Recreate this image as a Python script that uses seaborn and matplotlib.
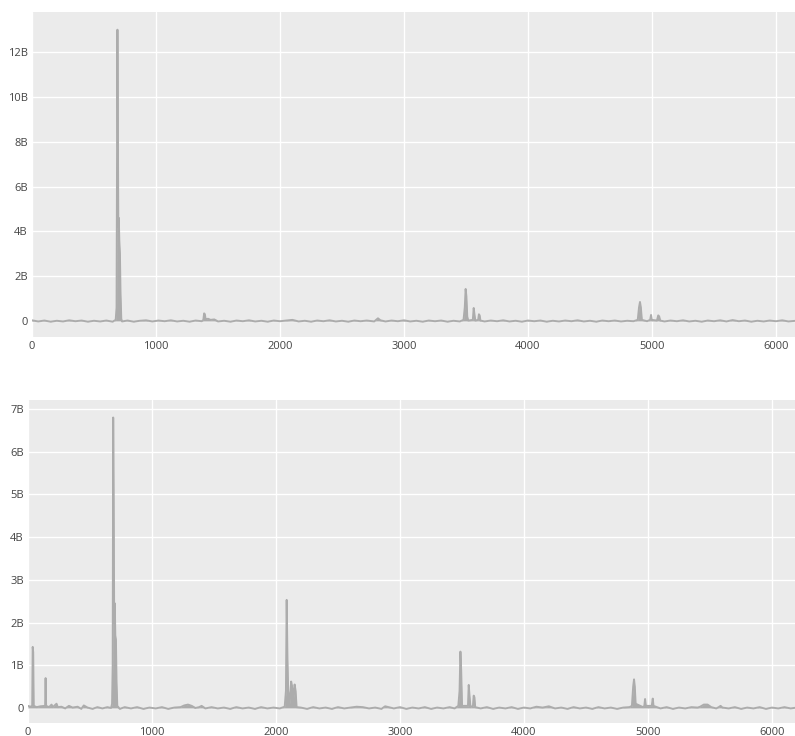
import matplotlib
matplotlib.use('Agg')
import matplotlib.pyplot as plt
import pandas as pd
import seaborn as sns
from matplotlib.ticker import FuncFormatter

# dados (valores em bilhoes)
top_x = [0, 50, 100, 150, 200, 250, 300, 350, 400, 450, 500, 550, 600, 650,
         675, 682, 686, 689, 692, 696, 700, 704, 709, 714, 720, 726,
         770, 820, 870, 920, 970, 1020, 1070, 1120, 1170, 1220, 1270, 1320, 1370,
         1382, 1388, 1394, 1400, 1420, 1440, 1470, 1500,
         1550, 1600, 1650, 1700, 1750, 1800, 1850, 1900, 1950, 2000, 2050, 2100, 2150,
         2200, 2250, 2300, 2350, 2400, 2450, 2500, 2550, 2600, 2650, 2700, 2760,
         2790, 2810, 2850, 2900, 2950, 3000, 3050, 3100, 3150, 3200, 3250, 3300,
         3350, 3400, 3450,
         3480, 3490, 3497, 3503, 3510, 3518, 3555, 3562, 3568, 3575, 3598, 3604, 3610, 3616,
         3650, 3700, 3750, 3800, 3850, 3900, 3950, 4000, 4050, 4100, 4150, 4200, 4250,
         4300, 4350, 4400, 4450, 4500, 4550, 4600, 4650, 4700, 4750, 4800, 4850,
         4885, 4895, 4903, 4910, 4918, 4960, 4985, 4992, 4998, 5040, 5050, 5058, 5066,
         5100, 5150, 5200, 5250, 5300, 5350, 5400, 5450, 5500, 5550, 5600, 5650, 5700,
         5750, 5800, 5850, 5900, 5950, 6000, 6050, 6100, 6160]
top_y = [0.03, -0.02, 0.02, -0.03, 0.01, -0.02, 0.03, -0.01, 0.02, -0.03, 0.01, -0.02, 0.02, -0.03,
         0.05, 0.6, 8.0, 13.0, 9.2, 4.2, 4.6, 3.6, 3.0, 1.2, 0.1, -0.02,
         0.02, -0.03, 0.01, 0.03, -0.02, 0.02, -0.01, 0.03, -0.02, 0.01, -0.03, 0.02, -0.01,
         0.05, 0.34, 0.3, 0.08, 0.1, 0.05, 0.07, -0.02,
         0.01, -0.03, 0.02, -0.01, 0.03, -0.02, 0.01, -0.03, 0.02, -0.01, 0.02, 0.05, -0.02,
         0.01, -0.03, 0.02, -0.01, 0.03, -0.02, 0.01, -0.03, 0.02, -0.01, 0.02, -0.02,
         0.12, 0.03, -0.02, 0.02, -0.01, 0.03, -0.02, 0.01, -0.03, 0.02, -0.01, 0.02,
         -0.03, 0.01, -0.02,
         0.05, 0.6, 1.43, 1.1, 0.2, 0.02, 0.05, 0.58, 0.3, 0.02, 0.05, 0.3, 0.25, 0.02,
         -0.02, 0.02, -0.01, 0.03, -0.02, 0.01, -0.03, 0.02, -0.01, 0.02, -0.03, 0.01, -0.02,
         0.02, -0.01, 0.03, -0.02, 0.01, -0.03, 0.02, -0.01, 0.02, -0.02, 0.01, -0.01,
         0.05, 0.6, 0.85, 0.6, 0.05, -0.01, 0.05, 0.27, 0.05, 0.02, 0.25, 0.2, 0.02,
         -0.02, 0.02, -0.01, 0.03, -0.02, 0.01, -0.03, 0.02, -0.01, 0.03, -0.02, 0.04, -0.01,
         0.02, -0.03, 0.01, -0.02, 0.02, -0.01, 0.03, -0.02, 0.01]

bottom_x = [0, 20, 34, 38, 42, 46, 70, 100, 138, 142, 146, 170, 190, 200, 230, 240,
            270, 300, 330, 360, 400, 430, 450, 480, 520, 560, 600, 640, 670,
            678, 683, 687, 691, 695, 700, 704, 709, 714, 720, 740,
            780, 830, 880, 930, 980, 1030, 1080, 1130, 1180, 1230, 1260, 1290, 1320,
            1350, 1380, 1400, 1430, 1480, 1530, 1580, 1630, 1680, 1730, 1780, 1830,
            1880, 1930, 1980, 2030, 2070,
            2080, 2086, 2092, 2098, 2110, 2122, 2130, 2140, 2150, 2158, 2166,
            2200, 2250, 2300, 2350, 2400, 2450, 2500, 2550, 2600, 2650, 2700, 2750,
            2800, 2850, 2880, 2920, 2950, 3000, 3050, 3100, 3150, 3200, 3250, 3300,
            3350, 3400, 3440, 3470,
            3480, 3487, 3493, 3500, 3548, 3554, 3560, 3568, 3588, 3594, 3600, 3606,
            3650, 3700, 3750, 3800, 3850, 3900, 3950, 4000, 4050, 4100, 4150, 4200,
            4250, 4300, 4350, 4400, 4450, 4500, 4550, 4600, 4650, 4700, 4750, 4800, 4850,
            4870, 4880, 4887, 4893, 4900, 4960, 4970, 4976, 4982, 5030, 5038, 5044,
            5100, 5150, 5200, 5250, 5300, 5350, 5400, 5420, 5450, 5480, 5510, 5550,
            5570, 5585, 5600, 5650, 5700, 5750, 5800, 5850, 5900, 5950, 6000, 6050,
            6100, 6150, 6200]
bottom_y = [0.05, 0.03, 0.05, 1.43, 1.3, 0.05, 0.02, 0.04, 0.05, 0.7, 0.05, 0.02, 0.08, 0.02, 0.1, 0.02,
            0.03, -0.01, 0.05, 0.01, 0.03, -0.02, 0.06, 0.01, -0.02, 0.02, -0.01, 0.02, 0.0,
            0.1, 1.0, 6.8, 4.9, 2.0, 2.45, 1.7, 1.6, 0.6, 0.05, -0.02,
            0.02, -0.01, 0.02, -0.02, 0.01, -0.01, 0.02, -0.02, 0.01, 0.02, 0.06, 0.08, 0.05,
            0.0, 0.02, 0.05, -0.01, 0.02, -0.01, 0.01, -0.02, 0.02, -0.01, 0.01, -0.02,
            0.02, -0.01, 0.01, -0.01, 0.03,
            0.4, 2.53, 1.2, 0.4, 0.1, 0.62, 0.5, 0.2, 0.55, 0.4, 0.02,
            0.01, -0.02, 0.02, -0.01, 0.01, -0.02, 0.02, -0.01, 0.01, 0.03, 0.02, -0.01,
            0.01, -0.02, 0.04, 0.01, -0.01, 0.02, -0.02, 0.01, -0.01, 0.02, -0.02, 0.01,
            -0.01, 0.02, -0.01, 0.05,
            0.4, 1.32, 0.9, 0.05, 0.05, 0.54, 0.3, 0.02, 0.05, 0.29, 0.25, 0.02,
            -0.01, 0.02, -0.02, 0.01, -0.01, 0.02, -0.02, 0.01, -0.01, 0.03, 0.01, 0.04,
            -0.01, 0.01, -0.02, 0.02, -0.01, 0.01, -0.02, 0.02, -0.01, 0.01, -0.02, 0.01, 0.02,
            0.05, 0.5, 0.67, 0.5, 0.1, 0.02, 0.05, 0.21, 0.05, 0.05, 0.22, 0.05,
            -0.01, 0.02, -0.02, 0.01, -0.01, 0.02, 0.01, 0.03, 0.08, 0.08, 0.02, -0.01,
            0.02, 0.05, 0.01, -0.01, 0.02, -0.02, 0.01, -0.01, 0.02, -0.02, 0.01, -0.01,
            0.02, -0.01, 0.01]

top_ticks = [0, 2, 4, 6, 8, 10, 12]
bottom_ticks = [0, 1, 2, 3, 4, 5, 6, 7]
x_ticks = [0, 1000, 2000, 3000, 4000, 5000, 6000]

df_top = pd.DataFrame({'x': top_x, 'y': top_y})
df_bottom = pd.DataFrame({'x': bottom_x, 'y': bottom_y})

sns.set_theme(style='darkgrid', rc={
    'axes.facecolor': '#ebebeb',
    'grid.color': 'white',
    'grid.linewidth': 1.0,
    'axes.edgecolor': '#ebebeb',
})
plt.rcParams['font.family'] = ['Open Sans', 'DejaVu Sans']

cor = '#acacac'
fig = plt.figure(figsize=(7.95, 7.36), dpi=100)
ax1 = fig.add_axes([32 / 795, 1 - 337 / 736, 1 - 32 / 795, 325 / 736])
ax2 = fig.add_axes([28 / 795, 1 - 723 / 736, 1 - 28 / 795, 323 / 736])


def fmt(v, pos):
    v = int(round(v))
    return '0' if v == 0 else f'{v}B'


for ax, df, ticks, ylim, xmax in [
    (ax1, df_top, top_ticks, (-0.714, 13.79), 6153),
    (ax2, df_bottom, bottom_ticks, (-0.351, 7.21), 6185),
]:
    ax.fill_between(df['x'], df['y'], 0, color=cor, linewidth=0)
    sns.lineplot(data=df, x='x', y='y', ax=ax, color=cor, linewidth=1.4)
    ax.set_xlim(0, xmax)
    ax.set_ylim(*ylim)
    ax.set_xticks(x_ticks)
    ax.set_yticks(ticks)
    ax.yaxis.set_major_formatter(FuncFormatter(fmt))
    ax.set_xlabel('')
    ax.set_ylabel('')
    ax.tick_params(axis='both', length=0, labelsize=8, labelcolor='#444444')
    ax.tick_params(axis='x', pad=3)
    ax.tick_params(axis='y', pad=3)
    for s in ax.spines.values():
        s.set_visible(False)

fig.savefig('out.png', dpi=100)
